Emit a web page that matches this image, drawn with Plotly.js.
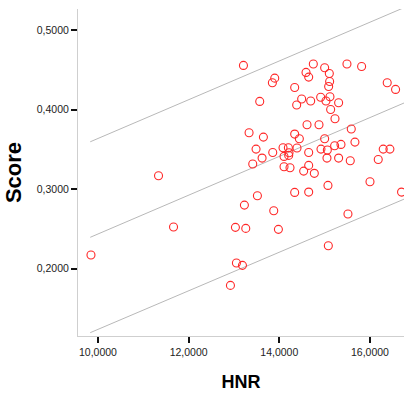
<!DOCTYPE html>
<html>
<head>
<meta charset="utf-8">
<script src="https://cdn.plot.ly/plotly-3.0.1.min.js"></script>
<style>
html,body{margin:0;padding:0;background:#fff;}
#chart{width:404px;height:396px;}
</style>
</head>
<body>
<div id="chart"></div>
<script>
// Scatter data: HNR vs Score
const hnr = [9.846, 11.336, 11.667, 12.922, 13.054, 13.187, 13.032, 13.26, 13.23, 13.517,
  13.209, 13.333, 13.414, 13.487, 13.568, 13.62, 13.649, 13.847, 13.899, 13.855,
  13.877, 13.98, 14.082, 14.104, 14.104, 14.2, 14.214, 14.207, 14.236, 14.339,
  14.339, 14.339, 14.383, 14.39, 14.442, 14.493, 14.537, 14.589, 14.611, 14.648,
  14.648, 14.648, 14.648, 14.692, 14.75, 14.772, 14.875, 14.912, 14.919, 15.0,
  15.0, 15.029, 15.059, 15.051, 15.073, 15.081, 15.103, 15.11, 15.088, 15.117,
  15.132, 15.228, 15.22, 15.308, 15.308, 15.36, 15.492, 15.514, 15.565, 15.587,
  15.668, 15.815, 16.0, 16.182, 16.292, 16.38, 16.439, 16.564, 16.696];
const score = [0.2172, 0.317, 0.2524, 0.179, 0.2071, 0.2042, 0.252, 0.2507, 0.280, 0.2918,
  0.4558, 0.371, 0.3317, 0.3505, 0.4105, 0.3392, 0.3656, 0.434, 0.4398, 0.3463,
  0.273, 0.2495, 0.3522, 0.3413, 0.3283, 0.3522, 0.3459, 0.3426, 0.327, 0.4281,
  0.3694, 0.296, 0.4059, 0.3518, 0.3635, 0.4136, 0.3228, 0.447, 0.3811, 0.4411,
  0.3463, 0.33, 0.2964, 0.4111, 0.4575, 0.32, 0.3811, 0.4157, 0.3505, 0.4528,
  0.3635, 0.4111, 0.3493, 0.3392, 0.3048, 0.2289, 0.4457, 0.4356, 0.4293, 0.4163,
  0.4004, 0.3887, 0.3547, 0.4088, 0.3392, 0.3564, 0.4575, 0.2688, 0.3358, 0.3757,
  0.3593, 0.4545, 0.3094, 0.3375, 0.3505, 0.434, 0.3505, 0.4256, 0.2964];

// Fit line and prediction interval
const fitX = [9.83, 16.75];
const fitY = [0.2395, 0.4085];
const upperY = [0.3597, 0.5285];
const lowerY = [0.1195, 0.2875];

// Tick values
const xTicks = [10, 12, 14, 16];
const yTicks = [0.2, 0.3, 0.4, 0.5];

const lineStyle = {color: '#b8b8b8', width: 1};

const traces = [
  {x: fitX, y: upperY, mode: 'lines', line: lineStyle, hoverinfo: 'skip'},
  {x: fitX, y: fitY, mode: 'lines', line: lineStyle, hoverinfo: 'skip'},
  {x: fitX, y: lowerY, mode: 'lines', line: lineStyle, hoverinfo: 'skip'},
  {x: hnr, y: score, mode: 'markers',
   marker: {symbol: 'circle-open', size: 8, color: 'rgb(255,40,40)', line: {width: 1.1}}}
];

const tickFont = {family: 'Liberation Sans, Arial, sans-serif', size: 10.5, color: '#222'};
const titleFont = {family: 'Liberation Sans, Arial, sans-serif', color: '#000'};

const layout = {
  width: 404, height: 396,
  margin: {l: 78, r: 0, t: 9, b: 60},
  paper_bgcolor: '#fff', plot_bgcolor: '#fff',
  showlegend: false,
  separators: ',.',
  xaxis: {
    range: [9.56, 16.75],
    tickvals: xTicks, tickformat: '.4f',
    showgrid: false, zeroline: false,
    showline: true, linecolor: '#cfcfcf', linewidth: 1,
    ticks: 'outside', ticklen: 6, tickwidth: 2, tickcolor: '#111',
    tickfont: tickFont,
    title: {text: '<b>HNR</b>', font: Object.assign({size: 18}, titleFont), standoff: 18}
  },
  yaxis: {
    range: [0.1153, 0.5268],
    tickvals: yTicks, tickformat: '.4f',
    showgrid: false, zeroline: false,
    showline: true, linecolor: '#cfcfcf', linewidth: 1,
    ticks: 'outside', ticklen: 6, tickwidth: 2, tickcolor: '#111',
    tickfont: tickFont,
    title: {text: '<b>Score</b>', font: Object.assign({size: 22}, titleFont), standoff: 9}
  }
};

Plotly.newPlot('chart', traces, layout, {displayModeBar: false, staticPlot: true});
</script>
</body>
</html>
